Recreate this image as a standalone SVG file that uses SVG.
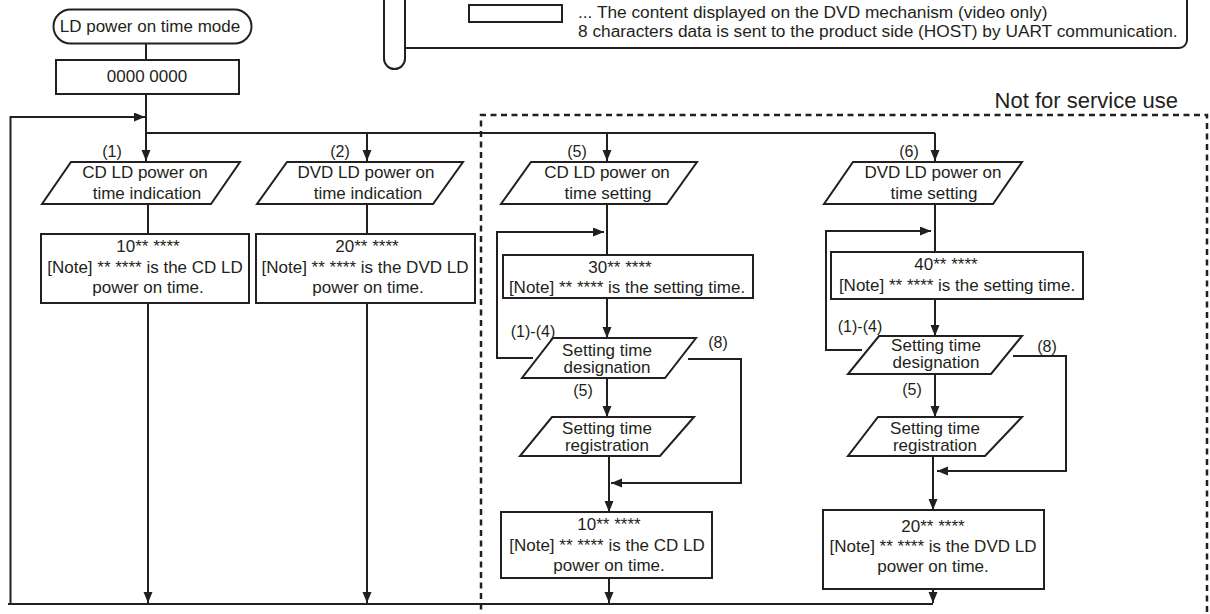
<svg xmlns="http://www.w3.org/2000/svg" width="1210" height="614" viewBox="0 0 1210 614">
<defs>
<marker id="ah" markerUnits="userSpaceOnUse" markerWidth="12" markerHeight="10" refX="11" refY="4.5" orient="auto">
<path d="M0,0 L11,4.5 L0,9 z" fill="#231f20"/>
</marker>
</defs>
<style>
text{font-family:"Liberation Sans",Arial,sans-serif;font-size:17px;fill:#231f20;text-anchor:middle}
.shape{fill:#fff;stroke:#231f20;stroke-width:2}
.ln{fill:none;stroke:#231f20;stroke-width:2}
.arr{fill:none;stroke:#231f20;stroke-width:2;marker-end:url(#ah)}
.lbl{font-size:16px}
.st{text-anchor:start;font-size:17.3px}
</style>
<rect width="1210" height="614" fill="#fff"/>

<g id="legend">
<path class="ln" d="M384,-5 V58.5 A10.5,10.5 0 0 0 405,58.5 V-5"/>
<path class="ln" d="M405,48 H1179 A8,8 0 0 0 1187,40 V-5"/>
<rect class="shape" x="469" y="5" width="93" height="17"/>
<text class="st" x="578" y="18">... The content displayed on the DVD mechanism (video only)</text>
<text class="st" x="578" y="37">8 characters data is sent to the product side (HOST) by UART communication.</text>
</g>

<g id="service-area">
<path d="M481,620 V115 H1207 V620" fill="none" stroke="#231f20" stroke-width="2.5" stroke-dasharray="6 4.5"/>
<text x="1178" y="108" style="text-anchor:end;font-size:22px">Not for service use</text>
</g>

<g id="connectors">
<path class="ln" d="M146,44 V60"/>
<path class="arr" d="M146,94 V161"/>
<path class="ln" d="M146,133 H935"/>
<path class="arr" d="M367,133 V161"/>
<path class="arr" d="M607,133 V161"/>
<path class="arr" d="M935,133 V161"/>
<path class="arr" d="M933,604 H8 M10.5,604 V117 H145"/>
<path class="ln" d="M148,204 V234"/>
<path class="arr" d="M148,303 V603"/>
<path class="ln" d="M367,204 V234"/>
<path class="arr" d="M367,303 V603"/>
<path class="ln" d="M607,204 V255"/>
<path class="arr" d="M533,358 H497 V232 H604"/>
<path class="arr" d="M607,298 V338"/>
<path class="arr" d="M607,378 V417"/>
<path class="arr" d="M688,359 H741 V483 H611"/>
<path class="arr" d="M609,456 V512"/>
<path class="arr" d="M609,578 V603"/>
<path class="ln" d="M935,204 V252"/>
<path class="arr" d="M862,350 H826 V231 H931"/>
<path class="arr" d="M935,299 V336"/>
<path class="arr" d="M935,374 V417"/>
<path class="arr" d="M1013,356 H1066 V471 H937"/>
<path class="arr" d="M933,456 V510"/>
<path class="arr" d="M933,589 V603"/>
</g>

<g id="start">
<rect class="shape" x="53.5" y="9.5" width="198" height="34" rx="17"/>
<text x="150" y="32">LD power on time mode</text>
</g>
<g id="init">
<rect class="shape" x="56" y="60" width="183" height="34"/>
<text x="147" y="82">0000 0000</text>
</g>

<g id="cd-indication">
<text class="lbl" x="112" y="157">(1)</text>
<polygon class="shape" points="71,162 240,162 211,204 42,204"/>
<text x="145" y="178">CD LD power on</text>
<text x="147" y="199">time indication</text>
</g>
<g id="cd-result">
<rect class="shape" x="41" y="234" width="208" height="69"/>
<text x="148" y="252">10** ****</text>
<text x="145" y="273">[Note] ** **** is the CD LD</text>
<text x="148" y="293">power on time.</text>
</g>

<g id="dvd-indication">
<text class="lbl" x="340" y="157">(2)</text>
<polygon class="shape" points="287,162 463,162 433,204 257,204"/>
<text x="366" y="178">DVD LD power on</text>
<text x="368" y="199">time indication</text>
</g>
<g id="dvd-result">
<rect class="shape" x="256" y="234" width="219" height="69"/>
<text x="367" y="252">20** ****</text>
<text x="365" y="273">[Note] ** **** is the DVD LD</text>
<text x="368" y="293">power on time.</text>
</g>

<g id="cd-setting">
<text class="lbl" x="577" y="157">(5)</text>
<polygon class="shape" points="531,162 697,162 667,204 501,204"/>
<text x="607" y="178">CD LD power on</text>
<text x="608" y="199">time setting</text>
</g>
<g id="cd-setting-box">
<rect class="shape" x="503" y="255" width="250" height="43"/>
<text x="620" y="273">30** ****</text>
<text x="627" y="293">[Note] ** **** is the setting time.</text>
</g>
<g id="cd-designation">
<text class="lbl" x="533" y="337">(1)-(4)</text>
<polygon class="shape" points="553,338 696,338 665,378 522,378"/>
<text x="607" y="356">Setting time</text>
<text x="607" y="373">designation</text>
<text class="lbl" x="718" y="348">(8)</text>
<text class="lbl" x="583" y="396">(5)</text>
</g>
<g id="cd-registration">
<polygon class="shape" points="552,417 694,417 660,456 520,456"/>
<text x="607" y="434">Setting time</text>
<text x="607" y="451">registration</text>
</g>
<g id="cd-setting-result">
<rect class="shape" x="501" y="512" width="211" height="66"/>
<text x="609" y="530">10** ****</text>
<text x="607" y="551">[Note] ** **** is the CD LD</text>
<text x="609" y="571">power on time.</text>
</g>

<g id="dvd-setting">
<text class="lbl" x="909" y="157">(6)</text>
<polygon class="shape" points="853,162 1022,162 993,204 824,204"/>
<text x="933" y="178">DVD LD power on</text>
<text x="934" y="199">time setting</text>
</g>
<g id="dvd-setting-box">
<rect class="shape" x="831" y="252" width="252" height="47"/>
<text x="946" y="270">40** ****</text>
<text x="957" y="291">[Note] ** **** is the setting time.</text>
</g>
<g id="dvd-designation">
<text class="lbl" x="860" y="332">(1)-(4)</text>
<polygon class="shape" points="879,336 1022,336 991,374 848,374"/>
<text x="936" y="351">Setting time</text>
<text x="936" y="368">designation</text>
<text class="lbl" x="1047" y="352">(8)</text>
<text class="lbl" x="912" y="395">(5)</text>
</g>
<g id="dvd-registration">
<polygon class="shape" points="878,417 1022,417 985,456 848,456"/>
<text x="935" y="434">Setting time</text>
<text x="935" y="451">registration</text>
</g>
<g id="dvd-setting-result">
<rect class="shape" x="823" y="510" width="221" height="79"/>
<text x="933" y="532">20** ****</text>
<text x="933" y="552">[Note] ** **** is the DVD LD</text>
<text x="933" y="572">power on time.</text>
</g>
</svg>
